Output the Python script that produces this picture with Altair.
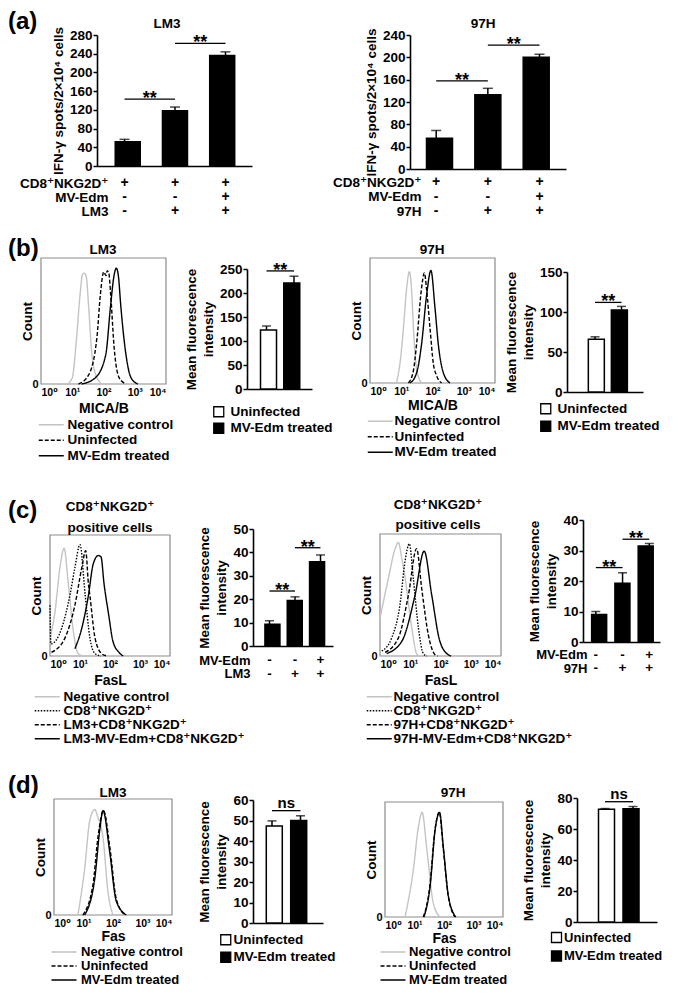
import altair as alt
import pandas as pd

W, H = 659, 979
FONT = "Liberation Sans, Arial, DejaVu Sans"

# ---------------- data ----------------
# (a) IFN-gamma ELISPOT
a_lm3_vals = [52, 118, 236]
a_lm3_errs = [5, 8, 8]
a_97h_vals = [55, 133, 200]
a_97h_errs = [14, 11.5, 5.5]
a_rows_lm3 = ["CD8⁺NKG2D⁺", "MV-Edm", "LM3"]
a_rows_97h = ["CD8⁺NKG2D⁺", "MV-Edm", "97H"]
a_signs = [["+", "-", "-"], ["+", "-", "+"], ["+", "+", "+"]]

# (b) MICA/B mean fluorescence intensity
groups = ["Uninfected", "MV-Edm treated"]
b_lm3_vals = [123, 221]
b_lm3_errs = [8, 14]
b_97h_vals = [66, 102.5]
b_97h_errs = [3, 4.5]

# (c) FasL mean fluorescence intensity
c_lm3_vals = [9.3, 19.4, 36]
c_lm3_errs = [1.5, 1.6, 2.9]
c_97h_vals = [9.0, 19.3, 31.5]
c_97h_errs = [1.0, 3.4, 0.8]
c_rows_lm3 = ["MV-Edm", "LM3"]
c_rows_97h = ["MV-Edm", "97H"]
c_signs = [["-", "-"], ["-", "+"], ["+", "+"]]

# (d) Fas mean fluorescence intensity
d_lm3_vals = [47.3, 50]
d_lm3_errs = [2.5, 2.3]
d_97h_vals = [72.7, 73]
d_97h_errs = [0.5, 1.5]

# histogram curves: (log10 fluorescence, relative count)
series3 = ["Negative control", "Uninfected", "MV-Edm treated"]
hist_b_lm3 = {
    "Negative control": ([0.85, 1.0, 1.14, 1.25, 1.33, 1.39, 1.45, 1.52, 1.63, 1.79, 1.96],
                         [0, 0.05, 0.37, 0.71, 0.87, 0.88, 0.85, 0.63, 0.23, 0.05, 0]),
    "Uninfected": ([1.2, 1.52, 1.79, 1.9, 2.01, 2.08, 2.12, 2.17, 2.23, 2.34, 2.5, 2.72],
                   [0, 0.07, 0.37, 0.71, 0.89, 0.86, 0.9, 0.88, 0.71, 0.29, 0.05, 0]),
    "MV-Edm treated": ([1.3, 1.74, 2.07, 2.23, 2.33, 2.41, 2.48, 2.55, 2.72, 2.88, 3.1],
                       [0, 0.05, 0.23, 0.63, 0.85, 0.92, 0.85, 0.63, 0.23, 0.05, 0]),
}
hist_b_97h = {
    "Negative control": ([0.85, 0.98, 1.07, 1.17, 1.26, 1.33, 1.39, 1.47, 1.55, 1.65],
                         [0, 0.2, 0.44, 0.75, 0.89, 0.75, 0.44, 0.15, 0.05, 0]),
    "Uninfected": ([1.23, 1.39, 1.49, 1.65, 1.74, 1.81, 1.92, 2.03, 2.13, 2.29],
                   [0, 0.1, 0.31, 0.76, 0.88, 0.75, 0.44, 0.15, 0.06, 0]),
    "MV-Edm treated": ([1.28, 1.49, 1.65, 1.81, 1.95, 2.08, 2.19, 2.35, 2.56],
                       [0, 0.08, 0.31, 0.7, 0.9, 0.6, 0.3, 0.08, 0]),
}
series_c_lm3 = ["Negative control", "CD8⁺NKG2D⁺", "LM3+CD8⁺NKG2D⁺", "LM3-MV-Edm+CD8⁺NKG2D⁺"]
hist_c_lm3 = {
    "Negative control": ([0, 0.17, 0.33, 0.47, 0.61, 0.78, 0.94, 1.1],
                         [0.15, 0.37, 0.73, 0.89, 0.6, 0.2, 0.02, 0]),
    "CD8⁺NKG2D⁺": ([0, 0.03, 0.39, 0.67, 0.83, 1.0, 1.17, 1.33, 1.5, 1.7],
                   [0.42, 0.1, 0.23, 0.51, 0.73, 0.92, 0.51, 0.15, 0.02, 0]),
    "LM3+CD8⁺NKG2D⁺": ([0.05, 0.5, 0.83, 1.06, 1.19, 1.28, 1.33, 1.5, 1.72, 1.9],
                       [0.03, 0.15, 0.42, 0.73, 0.87, 0.6, 0.5, 0.15, 0.02, 0]),
    "LM3-MV-Edm+CD8⁺NKG2D⁺": ([0.83, 1.06, 1.28, 1.44, 1.61, 1.7, 1.8, 1.95, 2.1, 2.3, 2.44],
                              [0.06, 0.23, 0.5, 0.76, 0.83, 0.82, 0.6, 0.35, 0.12, 0.03, 0]),
}
series_c_97h = ["Negative control", "CD8⁺NKG2D⁺", "97H+CD8⁺NKG2D⁺", "97H-MV-Edm+CD8⁺NKG2D⁺"]
hist_c_97h = {
    "Negative control": ([0, 0.28, 0.5, 0.61, 0.72, 0.83, 1.05, 1.21, 1.3],
                         [0.31, 0.64, 0.88, 0.93, 0.8, 0.64, 0.23, 0.02, 0]),
    "CD8⁺NKG2D⁺": ([0.06, 0.39, 0.66, 0.83, 0.97, 1.1, 1.27, 1.43, 1.55],
                   [0.04, 0.15, 0.42, 0.78, 0.92, 0.64, 0.23, 0.02, 0]),
    "97H+CD8⁺NKG2D⁺": ([0.17, 0.61, 0.94, 1.21, 1.38, 1.6, 1.82, 1.9],
                       [0.03, 0.15, 0.5, 0.88, 0.55, 0.17, 0.01, 0]),
    "97H-MV-Edm+CD8⁺NKG2D⁺": ([0.22, 0.72, 1.16, 1.46, 1.71, 1.98, 2.26, 2.35],
                              [0.02, 0.12, 0.5, 0.86, 0.5, 0.12, 0.01, 0]),
}
hist_d_lm3 = {
    "Negative control": ([0.81, 1.04, 1.21, 1.38, 1.49, 1.66, 1.83, 2.0],
                         [0, 0.4, 0.81, 0.91, 0.84, 0.67, 0.2, 0]),
    "Uninfected": ([0.98, 1.32, 1.49, 1.68, 1.89, 2.11, 2.4],
                   [0, 0.26, 0.67, 0.9, 0.59, 0.14, 0]),
    "MV-Edm treated": ([1.04, 1.38, 1.55, 1.66, 1.89, 2.11, 2.45],
                       [0, 0.31, 0.73, 0.9, 0.54, 0.12, 0]),
}
hist_d_97h = {
    "Negative control": ([0.68, 0.96, 1.13, 1.26, 1.41, 1.63, 1.86],
                         [0, 0.41, 0.78, 0.91, 0.61, 0.13, 0]),
    "Uninfected": ([1.3, 1.52, 1.69, 1.84, 1.97, 2.14, 2.37],
                   [0, 0.27, 0.75, 0.91, 0.61, 0.19, 0]),
    "MV-Edm treated": ([1.32, 1.53, 1.7, 1.85, 1.98, 2.15, 2.4],
                       [0, 0.27, 0.76, 0.91, 0.6, 0.18, 0]),
}

GRAY = "#c4c4c4"
colors3 = [GRAY, "black", "black"]
dashes3 = [[1, 0], [4, 2], [1, 0]]
colors4 = [GRAY, "black", "black", "black"]
dashes4 = [[1, 0], [1.5, 1.5], [4, 2], [1, 0]]

LINE_SYM = "M-2.5,0H2.5"


# ---------------- builders ----------------
def qscale(dom, rng):
    return alt.Scale(domain=dom, range=rng, nice=False, zero=False)


def bar_panel(vals, errs, xdom, xr, ydom, yr, yticks, ytitle, bw, cap,
              brackets, fills=None, legend=None, star_size=18, star_dy=5):
    n = len(vals)
    df = pd.DataFrame({"idx": list(range(1, n + 1)), "val": vals, "err": errs,
                       "grp": (groups if fills else ["g"] * n)})
    xs = qscale(xdom, xr)
    ys = qscale(ydom, yr)
    xaxis = alt.Axis(orient="bottom", offset=yr[0] - H, labels=False, ticks=False,
                     title=None, domainWidth=1.6, grid=False)
    yaxis = alt.Axis(orient="left", offset=-xr[0], values=yticks, title=ytitle,
                     tickSize=4, tickWidth=1.5, domainWidth=1.6, labelPadding=1,
                     titlePadding=4, titleLineHeight=17, grid=False)
    if fills:
        fill = alt.Fill("grp:N", scale=alt.Scale(domain=groups, range=fills), legend=legend)
    else:
        fill = alt.value("black")
    base = alt.Chart(df)
    bars = base.mark_bar(orient="vertical", size=bw, stroke="black", strokeWidth=1.5).encode(
        x=alt.X("idx:Q", scale=xs, axis=xaxis),
        y=alt.Y("val:Q", scale=ys, axis=yaxis),
        fill=fill,
    )
    hi = base.transform_calculate(hi="datum.val + datum.err")
    err = hi.mark_rule(color="black", strokeWidth=1.5).encode(
        x=alt.X("idx:Q", scale=xs, axis=None),
        y=alt.Y("val:Q", scale=ys, axis=None),
        y2="hi:Q",
    )
    caps = hi.mark_tick(orient="horizontal", size=cap, thickness=1.5, color="black").encode(
        x=alt.X("idx:Q", scale=xs, axis=None),
        y=alt.Y("hi:Q", scale=ys, axis=None),
    )
    bdf = pd.DataFrame(brackets, columns=["a", "b", "lvl", "lab"])
    br = alt.Chart(bdf).mark_rule(color="black", strokeWidth=1.3).encode(
        x=alt.X("a:Q", scale=xs, axis=None),
        x2="b:Q",
        y=alt.Y("lvl:Q", scale=ys, axis=None),
    )
    st = alt.Chart(bdf).transform_calculate(mid="(datum.a + datum.b) / 2").mark_text(
        fontSize=star_size, fontWeight="bold", baseline="alphabetic", dy=star_dy, color="black"
    ).encode(
        x=alt.X("mid:Q", scale=xs, axis=None),
        y=alt.Y("lvl:Q", scale=ys, axis=None),
        text="lab:N",
    )
    return [bars, err, caps, br, st]


def table_layer(rows, signs, xdom, xr, yrows, axis_x, sign_font=14, row_font=13.5):
    recs = []
    for ci, col in enumerate(signs):
        for ri, s in enumerate(col):
            recs.append({"idx": ci + 1, "row": rows[ri], "sym": s})
    return alt.Chart(pd.DataFrame(recs)).mark_text(fontSize=sign_font, fontWeight="bold", color="black").encode(
        x=alt.X("idx:Q", scale=qscale(xdom, xr), axis=None),
        y=alt.Y("row:N", scale=alt.Scale(domain=rows, range=yrows, padding=0),
                axis=alt.Axis(orient="left", offset=-axis_x, domain=False, ticks=False,
                              labelPadding=2, title=None, labelFontSize=row_font, grid=False)),
        text="sym:N",
    )


def hist_panel(curves, names, colors, dashes, xr, yr, xtitle, lx, ly, loff, lrow,
               lfont=13.5, xtpad=4):
    xs = qscale([0, 4], xr)
    ys = qscale([0, 1], yr)
    frame = alt.Chart(pd.DataFrame({"x0": [0], "x1": [4], "y0": [0], "y1": [1]})).mark_rect(
        filled=False, stroke="#8c8c8c", strokeWidth=1.2
    ).encode(
        x=alt.X("x0:Q", scale=xs, axis=alt.Axis(
            orient="bottom", offset=yr[0] - H, values=[0, 1, 2, 3, 4],
            labelExpr="['10⁰','10¹','10²','10³','10⁴'][datum.value]",
            domain=False, ticks=False, labelPadding=3, labelFontSize=10.5, labelFlush=True,
            title=xtitle, titlePadding=xtpad, titleFontSize=14, grid=False)),
        x2="x1:Q",
        y=alt.Y("y0:Q", scale=ys, axis=alt.Axis(
            orient="left", offset=-xr[0], values=[0], domain=False, ticks=False,
            labelPadding=3, labelFontSize=11, title="Count", titleFontSize=13.5,
            titlePadding=-3, grid=False)),
        y2="y1:Q",
    )
    recs = []
    for name in names:
        xv, hv = curves[name]
        for x, h in zip(xv, hv):
            recs.append({"series": name, "lx": x, "h": h})
    leg = alt.Legend(orient="none", legendX=lx, legendY=ly, title=None, symbolType=LINE_SYM,
                     symbolSize=100, symbolStrokeWidth=1.5, labelFontSize=lfont,
                     labelOffset=loff, rowPadding=lrow, padding=0, labelLimit=400)
    lines = alt.Chart(pd.DataFrame(recs)).mark_line(interpolate="monotone", strokeWidth=1.4).encode(
        x=alt.X("lx:Q", scale=xs, axis=None),
        y=alt.Y("h:Q", scale=ys, axis=None),
        color=alt.Color("series:N", scale=alt.Scale(domain=names, range=colors), legend=leg),
        strokeDash=alt.StrokeDash("series:N", scale=alt.Scale(domain=names, range=dashes), legend=leg),
    )
    return [frame, lines]


def bar_legend(x, y, off, rp, font=13.5):
    return alt.Legend(orient="none", legendX=x, legendY=y, title=None, symbolType="square",
                      symbolSize=100, symbolStrokeColor="black", symbolStrokeWidth=1.3,
                      labelFontSize=font, labelOffset=off, rowPadding=rp, padding=0,
                      labelLimit=400)


def label(text, x, y, size=13.5, align="center", baseline="middle"):
    return alt.Chart(pd.DataFrame({"t": [text]})).mark_text(
        fontSize=size, fontWeight="bold", align=align, baseline=baseline, color="black"
    ).encode(x=alt.value(x), y=alt.value(y), text="t:N")


MFI = ["Mean fluorescence", "intensity"]
IFN = "IFN-γ spots/2×10⁴ cells"

layers = []
# ---- (a) ----
layers += bar_panel(a_lm3_vals, a_lm3_errs, [0.455, 3.525], [89, 244], [0, 280], [158, 27],
                    list(range(0, 281, 40)), IFN, 25, 10, [(1, 2, 143, "**"), (2, 3, 262, "**")])
layers.append(table_layer(a_rows_lm3, a_signs, [0.455, 3.525], [89, 244], [175, 203], 102))
layers += bar_panel(a_97h_vals, a_97h_errs, [0.493, 3.513], [402, 558], [0, 240], [161, 27],
                    list(range(0, 241, 40)), IFN, 26, 10, [(1, 2, 158, "**"), (2, 3, 222, "**")])
layers.append(table_layer(a_rows_97h, a_signs, [0.493, 3.513], [402, 558], [174, 203], 415))
layers += [label("(a)", 0, 2, 24, "left", "top"), label("LM3", 159, 16), label("97H", 475, 16)]

# ---- (b) ----
layers += hist_panel(hist_b_lm3, series3, colors3, dashes3, [33, 158], [376, 250], "MICA/B",
                     36.5, 410, 9.5, 0.5)
layers += bar_panel(b_lm3_vals, b_lm3_errs, [0.29, 2.655], [239, 304], [0, 250], [381, 261],
                    list(range(0, 251, 50)), MFI, 16, 9, [(1, 2, 246, "**")],
                    fills=["white", "black"], legend=bar_legend(204, 397, 5, 0.5))
layers += hist_panel(hist_b_97h, series3, colors3, dashes3, [362, 487], [375, 250], "MICA/B",
                     365.5, 406.5, 7.5, 0.5, xtpad=2)
layers += bar_panel(b_97h_vals, b_97h_errs, [-0.057, 2.81], [559, 635], [0, 150], [384, 264],
                    [0, 50, 100, 150], MFI, 16, 9, [(1, 2, 112, "**")],
                    fills=["white", "black"], legend=bar_legend(531, 394, 5, 1.5))
layers += [label("(b)", 0, 241, 24, "left"), label("LM3", 95, 242), label("97H", 424, 242)]

# ---- (c) ----
layers += hist_panel(hist_c_lm3, series_c_lm3, colors4, dashes4, [42, 162], [648, 527], "FasL",
                     32.5, 682, 9.5, -1.5)
layers += bar_panel(c_lm3_vals, c_lm3_errs, [0.353, 3.49], [245, 325], [0, 50], [638, 521],
                    list(range(0, 51, 10)), MFI, 15, 9, [(1, 2, 23.5, "**"), (2, 3, 42, "**")])
layers.append(table_layer(c_rows_lm3, c_signs, [0.353, 3.49], [245, 325], [652, 665.5], 244,
                          sign_font=13.5, row_font=13))
layers += hist_panel(hist_c_97h, series_c_97h, colors4, dashes4, [372, 493], [648, 526], "FasL",
                     364.5, 682, 7.5, -1.5)
layers += bar_panel(c_97h_vals, c_97h_errs, [0.521, 3.40], [575, 652], [0, 40], [634, 512],
                    list(range(0, 41, 10)), MFI, 15, 9, [(1, 2, 24.4, "**"), (2, 3, 33.7, "**")])
layers.append(table_layer(c_rows_97h, c_signs, [0.521, 3.40], [575, 652], [646.5, 660], 581,
                          sign_font=13.5, row_font=13))
layers += [label("(c)", 0, 503, 24, "left"),
           label("CD8⁺NKG2D⁺", 102, 499), label("positive cells", 102, 520),
           label("CD8⁺NKG2D⁺", 430, 497), label("positive cells", 430, 517)]

# ---- (d) ----
layers += hist_panel(hist_d_lm3, series3, colors3, dashes3, [46, 164], [907, 791], "Fas",
                     49.5, 937.5, 10.5, -1.5, lfont=13, xtpad=1)
layers += bar_panel(d_lm3_vals, d_lm3_errs, [0.333, 2.79], [245, 315], [0, 60], [915, 792],
                    list(range(0, 61, 10)), MFI, 16, 9, [(1, 2, 54.8, "ns")],
                    fills=["white", "black"], legend=bar_legend(211, 925, 1, 1.5),
                    star_size=15, star_dy=-2.5)
layers += hist_panel(hist_d_97h, series3, colors3, dashes3, [377, 495], [909, 794], "Fas",
                     378.5, 937.5, 9.5, -1.5, lfont=13, xtpad=1)
layers += bar_panel(d_97h_vals, d_97h_errs, [0, 2.857], [569, 649], [0, 80], [914, 790],
                    [0, 20, 40, 60, 80], MFI, 16, 9, [(1, 2, 77.6, "ns")],
                    fills=["white", "black"], legend=bar_legend(542, 923, 1, 1.5, font=13),
                    star_size=15, star_dy=-2.5)
layers += [label("(d)", 0, 778, 24, "left"), label("LM3", 105, 785), label("97H", 445, 785)]

chart = alt.layer(*layers).resolve_scale(
    x="independent", y="independent", color="independent", fill="independent",
    strokeDash="independent"
).properties(
    width=W, height=H, padding=0, autosize=alt.AutoSizeParams(type="none")
).configure(font=FONT).configure_view(strokeWidth=0).configure_axis(
    labelFont=FONT, titleFont=FONT, labelFontWeight="bold", titleFontWeight="bold",
    labelColor="black", titleColor="black", domainColor="black", tickColor="black",
    labelFontSize=13.5, titleFontSize=13.5, grid=False
).configure_legend(
    labelFont=FONT, labelFontWeight="bold", labelColor="black", labelFontSize=13.5
).configure_text(font=FONT)

chart.save("out.html", embed_options={"renderer": "svg", "actions": False})
